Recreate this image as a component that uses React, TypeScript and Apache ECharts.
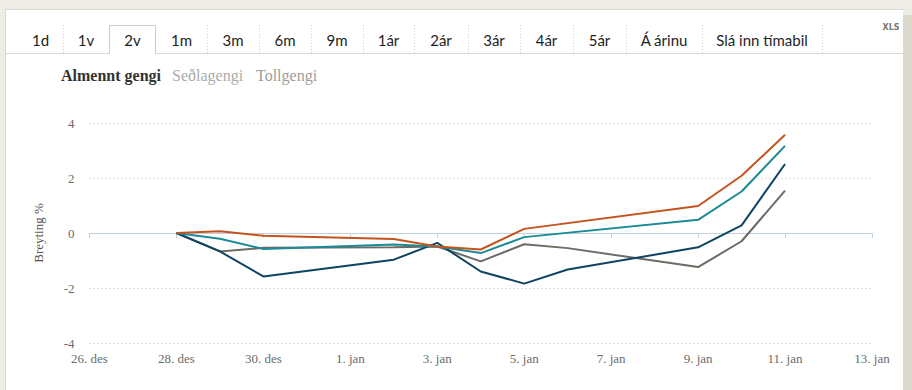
import React, { useEffect, useRef } from "react";
import * as echarts from "echarts";

// Day offsets from 26. des (x values) of each observation
const dates = ["28. des", "29. des", "30. des", "2. jan", "3. jan", "4. jan", "5. jan", "6. jan", "9. jan", "10. jan", "11. jan"];
const dayOffsets = [2, 3, 4, 7, 8, 9, 10, 11, 14, 15, 16];

const xTickLabels = ["26. des", "28. des", "30. des", "1. jan", "3. jan", "5. jan", "7. jan", "9. jan", "11. jan", "13. jan"];

const seriesOrange = [0, 0.06, -0.1, -0.22, -0.49, -0.6, 0.15, null, 0.98, 2.08, 3.57];
const seriesTeal = [0, -0.21, -0.58, -0.42, -0.49, -0.73, -0.15, null, 0.48, 1.51, 3.17];
const seriesDark = [0, -0.67, -1.58, -0.97, -0.36, -1.4, -1.84, -1.33, -0.52, 0.28, 2.51];
const seriesGray = [0, -0.67, -0.54, -0.52, -0.49, -1.03, -0.41, -0.55, -1.24, -0.3, 1.54];

const seriesNames = ["Gjaldmiðill 1", "Gjaldmiðill 2", "Gjaldmiðill 3", "Gjaldmiðill 4"];
const seriesColors = ["#c4541d", "#1c8a97", "#0e4463", "#6e6a64"];

const tabs = ["1d", "1v", "2v", "1m", "3m", "6m", "9m", "1ár", "2ár", "3ár", "4ár", "5ár", "Á árinu", "Slá inn tímabil"];
const tabEdges = [18, 63, 109, 156, 207, 259, 311, 363, 414, 468, 520, 573, 626, 702, 822];
const selectedTab = 2;

const rateTypes = ["Almennt gengi", "Seðlagengi", "Tollgengi"];

export default function App() {
  const ref = useRef<HTMLDivElement>(null);
  useEffect(() => {
    if (!ref.current) return;
    document.body.style.margin = "0";
    const chart = echarts.init(ref.current, undefined, { renderer: "svg" });
    const beige = "#eeede5";
    const graphics: any[] = [];
    // page frame
    graphics.push({ type: "rect", shape: { x: 0, y: 0, width: 912, height: 9 }, style: { fill: beige }, silent: true });
    graphics.push({ type: "rect", shape: { x: 0, y: 0, width: 5, height: 390 }, style: { fill: beige }, silent: true });
    graphics.push({ type: "rect", shape: { x: 903, y: 0, width: 9, height: 15 }, style: { fill: beige }, silent: true });
    graphics.push({ type: "rect", shape: { x: 903, y: 15, width: 9, height: 375 }, style: { fill: "#dbdacd" }, silent: true });
    graphics.push({ type: "line", shape: { x1: 5, y1: 9.5, x2: 903, y2: 9.5 }, style: { stroke: "#d8d7cf", lineWidth: 1 }, silent: true });
    graphics.push({ type: "line", shape: { x1: 5.5, y1: 9, x2: 5.5, y2: 390 }, style: { stroke: "#d8d7cf", lineWidth: 1 }, silent: true });
    // tab bar bottom line
    graphics.push({ type: "line", shape: { x1: 5, y1: 53.5, x2: 903, y2: 53.5 }, style: { stroke: "#d9d9d9", lineWidth: 1 }, silent: true });
    // separators
    for (let i = 1; i < tabEdges.length; i++) {
      const x = tabEdges[i] + 0.5;
      if (i === selectedTab || i === selectedTab + 1) continue;
      graphics.push({ type: "line", shape: { x1: x, y1: 25, x2: x, y2: 53 }, style: { stroke: "#cfcfcf", lineWidth: 1, lineDash: [1, 2] }, silent: true });
    }
    // selected tab box
    const sx1 = tabEdges[selectedTab] + 0.5;
    const sx2 = tabEdges[selectedTab + 1] - 0.5;
    graphics.push({ type: "line", shape: { x1: sx1 + 0.5, y1: 53.5, x2: sx2 - 0.5, y2: 53.5 }, style: { stroke: "#ffffff", lineWidth: 1 }, silent: true });
    graphics.push({ type: "polyline", shape: { points: [[sx1, 54], [sx1, 25.5], [sx2, 25.5], [sx2, 54]] }, style: { stroke: "#cccccc", lineWidth: 1, fill: null }, silent: true });
    // tab texts
    tabs.forEach((t, i) => {
      graphics.push({
        type: "text",
        x: (tabEdges[i] + tabEdges[i + 1]) / 2,
        y: 40,
        style: { text: t, fill: "#1e1e1e", font: "15px Lato, 'Open Sans', sans-serif", align: "center", verticalAlign: "middle" },
        silent: true,
      });
    });
    graphics.push({
      type: "text", x: 891, y: 27,
      style: { text: "XLS", fill: "#777", font: "bold 8px 'DejaVu Sans', sans-serif", align: "center", verticalAlign: "middle" },
      silent: true,
    });
    // rate type selector
    const rateX = [61, 172, 256];
    const rateColors = ["#333333", "#ababab", "#9d9d9d"];
    rateTypes.forEach((t, i) => {
      graphics.push({
        type: "text", x: rateX[i], y: 75,
        style: { text: t, fill: rateColors[i], font: (i === 0 ? "bold " : "") + "16px 'Liberation Serif', serif", align: "left", verticalAlign: "middle" },
        silent: true,
      });
    });

    const makeData = (vals: (number | null)[]) => dayOffsets.map((d, i) => [d, vals[i]]);
    const allSeries = [seriesOrange, seriesTeal, seriesDark, seriesGray];

    chart.setOption({
      animation: false,
      backgroundColor: "#ffffff",
      textStyle: { fontFamily: "'Liberation Serif', serif" },
      grid: { left: 89.5, right: 40, top: 123, bottom: 47 },
      graphic: graphics,
      tooltip: { show: false },
      xAxis: {
        type: "value",
        min: 0,
        max: 18,
        interval: 2,
        axisLine: { show: true, lineStyle: { color: "#c3d0df", width: 1 } },
        axisTick: { show: true, length: 5, lineStyle: { color: "#c3d0df" } },
        splitLine: { show: false },
        axisLabel: {
          color: "#6b6b6b",
          fontSize: 13,
          fontFamily: "'Liberation Serif', serif",
          margin: 9,
          formatter: (v: number) => xTickLabels[Math.round(v / 2)] ?? "",
        },
      },
      yAxis: {
        type: "value",
        min: -4,
        max: 4,
        interval: 2,
        name: "Breyting %",
        nameLocation: "middle",
        nameGap: 45,
        nameRotate: 90,
        nameTextStyle: { color: "#555", fontSize: 13, fontFamily: "'Liberation Serif', serif" },
        axisLine: { show: false },
        axisTick: { show: false },
        axisLabel: { color: "#6b6b6b", fontSize: 13, fontFamily: "'Liberation Serif', serif", margin: 15 },
        splitLine: { show: true, lineStyle: { color: "#bdbdbd", type: [1, 3], width: 1 } },
      },
      series: allSeries.map((vals, i) => ({
        name: seriesNames[i],
        type: "line",
        data: makeData(vals),
        connectNulls: true,
        showSymbol: false,
        symbol: "none",
        lineStyle: { color: seriesColors[i], width: 2 },
        itemStyle: { color: seriesColors[i] },
        z: 10 - i,
      })),
    });
    return () => chart.dispose();
  }, []);
  return <div ref={ref} style={{ width: 912, height: 390 }} />;
}
